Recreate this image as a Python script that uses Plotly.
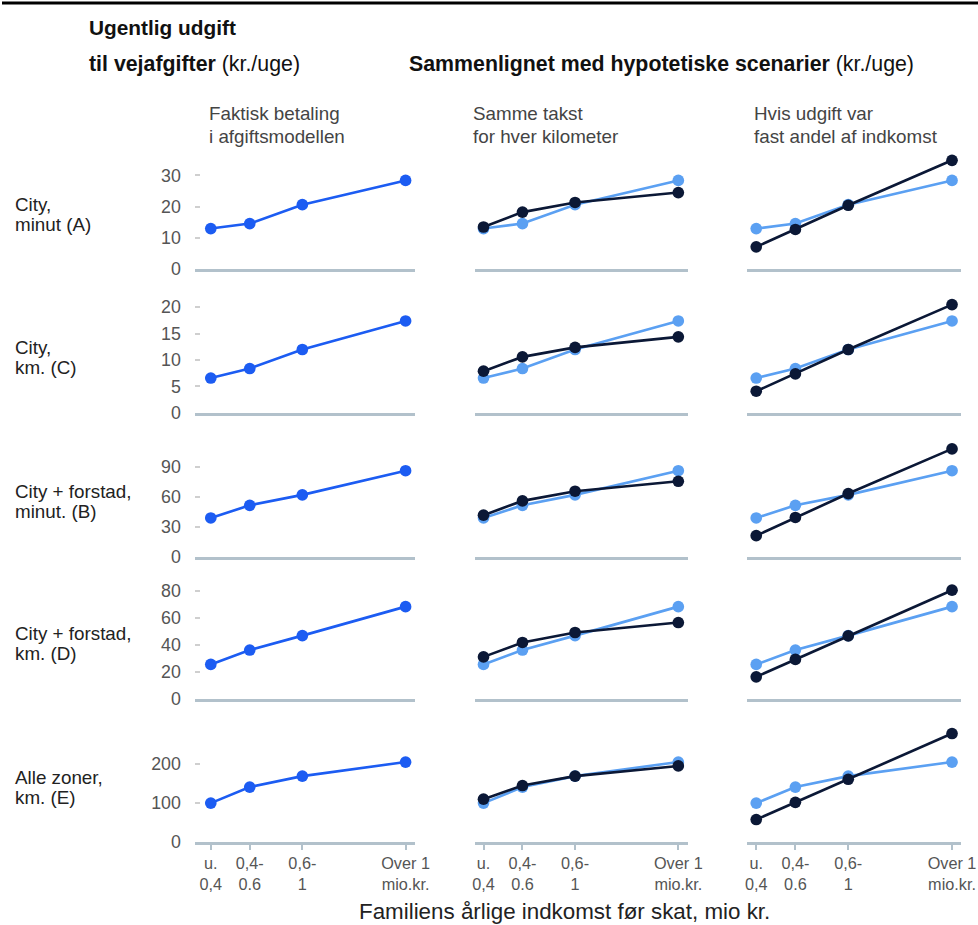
import plotly.graph_objects as go

W, H = 978, 925          # target picture size (reference pixel coordinates)
S = 0.9838               # the page is photographed scaled by this factor
FW, FH = round(W / S), round(H / S)
FONT = "Liberation Sans, Arial, sans-serif"

# ---------------- data ----------------
income_labels = ["u.<br>0,4", "0,4-<br>0.6", "0,6-<br>1", "Over 1<br>mio.kr."]
income_pos = [0.3, 0.5, 0.77, 1.3]

row_labels = [["City,", "minut (A)"], ["City,", "km. (C)"], ["City + forstad,", "minut. (B)"],
              ["City + forstad,", "km. (D)"], ["Alle zoner,", "km. (E)"]]
col_titles = [["Faktisk betaling", "i afgiftsmodellen"], ["Samme takst", "for hver kilometer"],
              ["Hvis udgift var", "fast andel af indkomst"]]

actual = [
    [12.9, 14.5, 20.6, 28.4],
    [6.6, 8.4, 12.0, 17.4],
    [39.0, 51.6, 62.0, 86.0],
    [25.3, 36.0, 46.7, 68.2],
    [99, 140, 168, 204],
]
same_rate = [
    [13.4, 18.2, 21.3, 24.5],
    [7.9, 10.6, 12.4, 14.4],
    [41.8, 56.0, 65.6, 75.5],
    [30.9, 41.6, 49.0, 56.4],
    [109, 144, 168, 194],
]
income_share = [
    [7.0, 12.6, 20.4, 34.9],
    [4.1, 7.4, 12.0, 20.5],
    [21.4, 39.5, 63.3, 107.7],
    [16.1, 29.0, 46.5, 80.4],
    [57, 101, 160, 277],
]
y_ticks = [[0, 10, 20, 30], [0, 5, 10, 15, 20], [0, 30, 60, 90], [0, 20, 40, 60, 80], [0, 100, 200]]

# ---------------- styles ----------------
C_ACTUAL = "#1c5cf2"
C_LIGHT = "#5ba0f2"
C_DARK = "#0b1836"
C_AXIS = "#b2c1cb"

col_px = [(193, 413), (473, 687), (746, 960)]
col_pad_left = [16, 9, 9]
col_pad_right = [9, 10, 9]
row_zero_px = [265, 409, 553, 694, 837]
plot_h = 114


def fs(v):
    return v / S


fig = go.Figure()
layout_axes = {}

for r in range(5):
    rowmax = max(max(actual[r]), max(same_rate[r]), max(income_share[r]))
    y0 = row_zero_px[r]
    ydom = [1 - y0 / H, 1 - (y0 - plot_h) / H]
    for c in range(3):
        k = r * 3 + c + 1
        xa = "x" if k == 1 else f"x{k}"
        ya = "y" if k == 1 else f"y{k}"
        xl, xr = col_px[c]
        span_px = (xr - xl) - col_pad_left[c] - col_pad_right[c]
        ppu = span_px / (income_pos[-1] - income_pos[0])
        xrange = [income_pos[0] - col_pad_left[c] / ppu, income_pos[-1] + col_pad_right[c] / ppu]

        if c == 0:
            series = [(actual[r], C_ACTUAL)]
        elif c == 1:
            series = [(actual[r], C_LIGHT), (same_rate[r], C_DARK)]
        else:
            series = [(actual[r], C_LIGHT), (income_share[r], C_DARK)]
        for vals, col in series:
            fig.add_trace(go.Scatter(
                x=income_pos, y=vals, mode="lines+markers",
                line=dict(color=col, width=fs(2.6)),
                marker=dict(color=col, size=fs(11.5)),
                xaxis=xa, yaxis=ya, showlegend=False, cliponaxis=False,
                hoverinfo="skip"))

        bottom = (r == 4)
        xkey = "xaxis" if k == 1 else f"xaxis{k}"
        ykey = "yaxis" if k == 1 else f"yaxis{k}"
        layout_axes[xkey] = dict(
            domain=[xl / W, xr / W], anchor=ya, range=xrange,
            showgrid=False, zeroline=False, showline=True,
            linecolor=C_AXIS, linewidth=fs(2.5),
            ticks="outside" if bottom else "", ticklen=round(fs(5)), tickcolor=C_AXIS, tickwidth=fs(1.5),
            tickvals=income_pos, ticktext=income_labels,
            showticklabels=bottom,
            tickfont=dict(family=FONT, size=fs(16), color="#555555"),
        )
        layout_axes[ykey] = dict(
            domain=ydom, anchor=xa, range=[0, rowmax * 1.055],
            showgrid=False, zeroline=False, showline=False,
            ticks="inside" if c == 0 else "", ticklen=round(fs(5)), tickcolor="#cfcfcf", tickwidth=fs(1.5),
            tickvals=y_ticks[r], showticklabels=(c == 0),
            ticklabelstandoff=13,
            tickfont=dict(family=FONT, size=fs(17.5), color="#555555"),
        )

annotations = []


def ann(text, x, y, size, color="#222222", xanchor="left", align="left"):
    annotations.append(dict(
        text=text, x=x / W, y=1 - y / H, xref="paper", yref="paper",
        xanchor=xanchor, yanchor="middle", align=align, showarrow=False,
        font=dict(family=FONT, size=fs(size), color=color)))


ann("<b>Ugentlig udgift</b>", 85, 24, 20.5, "#111111")
ann("<b>til vejafgifter</b> (kr./uge)", 85, 61, 21, "#111111")
ann("<b>Sammenlignet med hypotetiske scenarier</b> (kr./uge)", 405, 61, 21, "#111111")

col_title_x = [205, 469, 751]
for c in range(3):
    ann(col_titles[c][0], col_title_x[c], 110, 18.5, "#444444")
    ann(col_titles[c][1], col_title_x[c], 133, 18.5, "#444444")

row_label_y = [211, 354, 497, 639, 783]
for r in range(5):
    ann(row_labels[r][0], 11, row_label_y[r] - 10, 18.5, "#222222")
    ann(row_labels[r][1], 11, row_label_y[r] + 10, 18.5, "#222222")

ann("Familiens årlige indkomst før skat, mio kr.", 563, 907, 22, "#222222", xanchor="center", align="center")

fig.update_layout(
    width=FW, height=FH, autosize=False,
    margin=dict(l=0, r=0, t=0, b=0),
    paper_bgcolor="white", plot_bgcolor="white",
    annotations=annotations,
    shapes=[dict(type="line", xref="paper", yref="paper", x0=0, x1=1, y0=1, y1=1,
                 line=dict(color="black", width=3))],
    **layout_axes,
)

fig.write_html(
    "out.html",
    config={"displayModeBar": False},
    post_script="document.body.style.margin='0px';document.body.style.overflow='hidden';"
                "document.documentElement.style.overflow='hidden';",
)
